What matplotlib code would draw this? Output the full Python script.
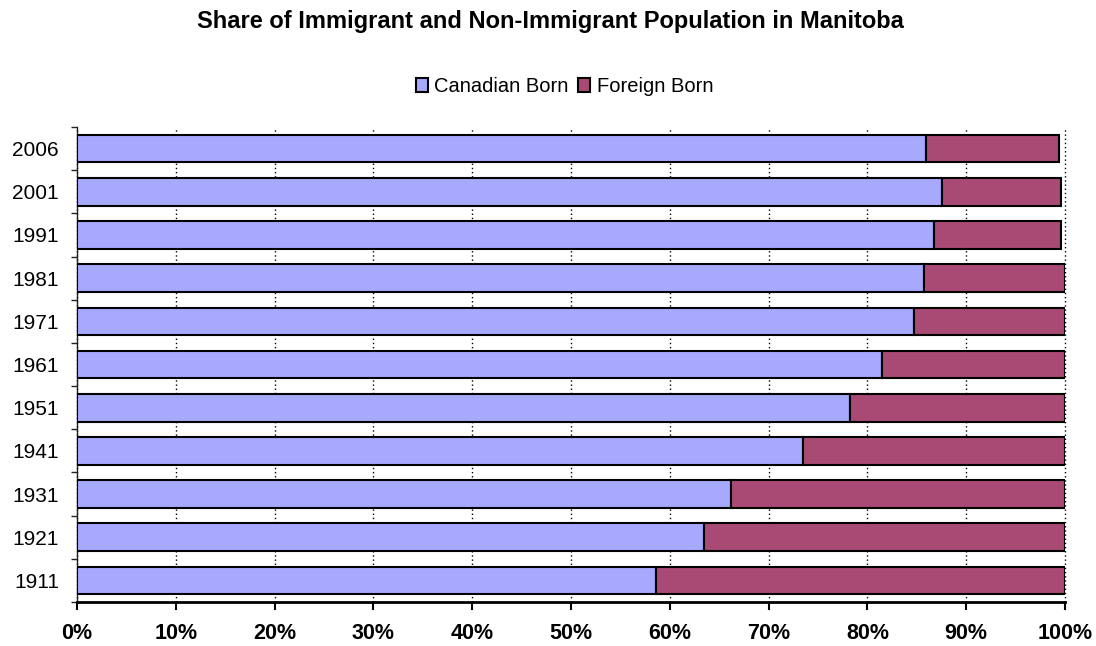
import numpy as np
import matplotlib
matplotlib.use("Agg")
import matplotlib.pyplot as plt
from matplotlib.ticker import PercentFormatter

years = ["1911", "1921", "1931", "1941", "1951", "1961", "1971", "1981", "1991", "2001", "2006"]
canadian = [58.6, 63.5, 66.2, 73.5, 78.2, 81.5, 84.7, 85.7, 86.7, 87.6, 85.9]
foreign = [41.4, 36.5, 33.8, 26.5, 21.8, 18.5, 15.3, 14.3, 12.9, 12.0, 13.5]

blue = "#A7A9FF"
maroon = "#A84A74"

plt.rcParams['font.family'] = ['Liberation Sans', 'DejaVu Sans']

fig = plt.figure(figsize=(10.96, 6.46), dpi=100)
ax = fig.add_axes([77/1096, 1-602/646, (1065-77)/1096, (602-127)/646])

y = np.arange(len(years))
ax.barh(y, canadian, height=0.64, color=blue, edgecolor="black", linewidth=1.5,
        label="Canadian Born", zorder=3)
ax.barh(y, foreign, left=canadian, height=0.64, color=maroon, edgecolor="black",
        linewidth=1.5, label="Foreign Born", zorder=3)

ax.set_xlim(0, 100)
ax.set_ylim(-0.5, len(years)-0.5)
ax.set_xticks(np.arange(0, 101, 10))
ax.xaxis.set_major_formatter(PercentFormatter(decimals=0))
ax.set_yticks(y)
ax.set_yticklabels(years)
ax.set_yticks(np.arange(-0.5, len(years), 1), minor=True)

ax.xaxis.grid(True, linestyle=(0, (1, 2)), color="black", linewidth=1.0, zorder=0)
ax.set_axisbelow(True)
for gl in ax.get_xgridlines():
    gl.set_clip_on(False)

for s in ["top", "right"]:
    ax.spines[s].set_visible(False)
ax.spines["bottom"].set_linewidth(2)
ax.spines["left"].set_linewidth(1)
ax.spines["left"].set_color("#222222")

ax.tick_params(axis="x", direction="out", length=6, width=1.5, labelsize=15.5, pad=9)
ax.tick_params(axis="y", which="major", length=0, labelsize=15, pad=13)
ax.tick_params(axis="y", which="minor", length=4, width=1, color="#222222")
for lab in ax.get_xticklabels():
    lab.set_fontweight("bold")

fig.text(0.502, 0.966, "Share of Immigrant and Non-Immigrant Population in Manitoba",
         ha="center", va="center", fontsize=17, fontweight="bold",
         family=['Liberation Sans Narrow', 'Liberation Sans', 'DejaVu Sans'])

fig.legend(loc="center", bbox_to_anchor=(0.515, 0.866), ncol=2, frameon=False,
           fontsize=14.5, handlelength=0.6, handleheight=0.7, handletextpad=0.3,
           columnspacing=0.5)

fig.savefig("out.png", dpi=100)
